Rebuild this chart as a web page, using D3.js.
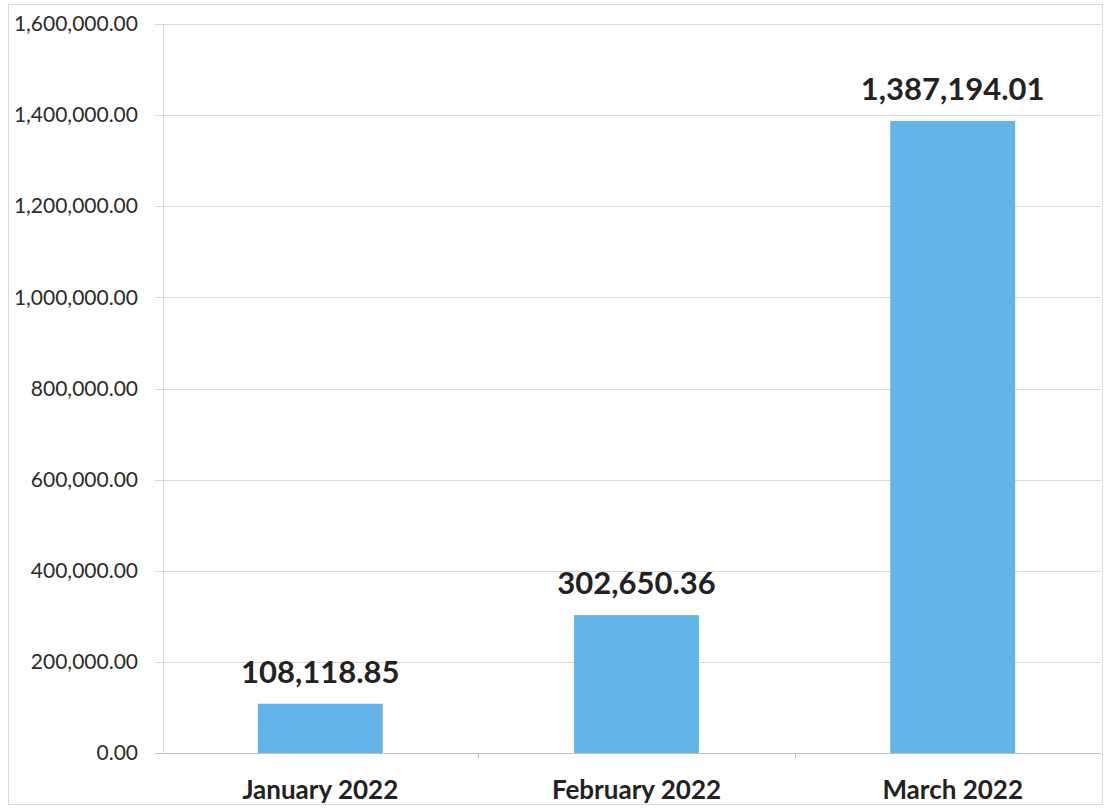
<!DOCTYPE html>
<html>
<head>
<meta charset="utf-8">
<script src="https://cdn.jsdelivr.net/npm/d3@7"></script>
<style>
  html, body { margin: 0; padding: 0; background: #fff; }
  svg { display: block; }
</style>
</head>
<body>
<svg id="chart" width="1107" height="809"></svg>
<script>
// Monthly totals
const months = ["January 2022", "February 2022", "March 2022"];
const totals = [108118.85, 302650.36, 1387194.01];
const yTicks = [0, 200000, 400000, 600000, 800000, 1000000, 1200000, 1400000, 1600000];

const svg = d3.select("#chart");
const plot = { left: 163, right: 1110, top: 24, bottom: 753 };

const x = d3.scaleBand()
  .domain(months)
  .range([plot.left, plot.right])
  .paddingInner(0.605)
  .paddingOuter(0.3);

const y = d3.scaleLinear()
  .domain([0, 1600000])
  .range([plot.bottom, plot.top]);

const fmt = d3.format(",.2f");
const font = "Lato, 'Open Sans', sans-serif";

// Outer frame
svg.append("rect")
  .attr("x", 8.5).attr("y", 4.5)
  .attr("width", 1094).attr("height", 800)
  .attr("fill", "none")
  .attr("stroke", "#d9d9d9")
  .attr("stroke-width", 1);

// Horizontal gridlines
svg.append("g")
  .selectAll("line")
  .data(yTicks)
  .join("line")
  .attr("x1", plot.left - 8)
  .attr("x2", 1101)
  .attr("y1", d => Math.round(y(d)) + 0.5)
  .attr("y2", d => Math.round(y(d)) + 0.5)
  .attr("stroke", d => d === 0 ? "#bfbfbf" : "#d9d9d9")
  .attr("stroke-width", 1);

// Value axis
const yAxis = d3.axisLeft(y)
  .tickValues(yTicks)
  .tickFormat(fmt)
  .tickSize(0)
  .tickPadding(25);

svg.append("g")
  .attr("transform", `translate(${plot.left},0)`)
  .call(yAxis)
  .call(g => g.select(".domain").attr("stroke", "#d9d9d9"))
  .call(g => g.selectAll("text")
    .attr("fill", "#2b2b2b")
    .style("font-family", font)
    .style("font-size", "21px"));

// Category axis ticks at band boundaries
const bounds = months.map(m => x(m) - x.step() * x.paddingInner() / 2);
svg.append("g")
  .selectAll("line")
  .data(bounds.slice(1))
  .join("line")
  .attr("x1", d => Math.round(d) + 0.5)
  .attr("x2", d => Math.round(d) + 0.5)
  .attr("y1", plot.bottom)
  .attr("y2", plot.bottom + 6)
  .attr("stroke", "#bfbfbf");

// Bars
svg.append("g")
  .selectAll("rect")
  .data(months)
  .join("rect")
  .attr("x", d => x(d))
  .attr("width", x.bandwidth())
  .attr("y", (d, i) => y(totals[i]))
  .attr("height", (d, i) => plot.bottom - y(totals[i]))
  .attr("fill", "#63b4e8");

// Value labels
svg.append("g")
  .selectAll("text")
  .data(months)
  .join("text")
  .attr("x", d => x(d) + x.bandwidth() / 2)
  .attr("y", (d, i) => y(totals[i]) - 21)
  .attr("text-anchor", "middle")
  .attr("fill", "#222")
  .style("font-family", font)
  .style("font-weight", "bold")
  .style("font-size", "31px")
  .text((d, i) => fmt(totals[i]));

// Category labels
svg.append("g")
  .selectAll("text")
  .data(months)
  .join("text")
  .attr("x", d => x(d) + x.bandwidth() / 2)
  .attr("y", 799)
  .attr("text-anchor", "middle")
  .attr("fill", "#222")
  .style("font-family", font)
  .style("font-weight", "bold")
  .style("font-size", "26px")
  .text(d => d);
</script>
</body>
</html>
